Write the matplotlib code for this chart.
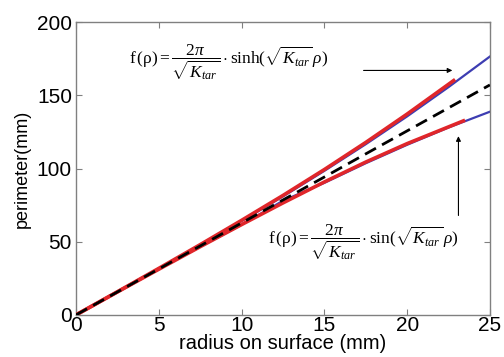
import matplotlib
matplotlib.use("Agg")
import matplotlib.pyplot as plt

# radius on surface (mm)
rho = [0, 2.5, 5, 7.5, 10, 12.5, 15, 17.5, 20, 22.5, 25]
# flat reference 2*pi*rho
flat = [0, 15.7, 31.4, 47.1, 62.8, 78.5, 94.2, 110.0, 125.7, 141.4, 157.1]
# theoretical curves (blue)
sinh_curve = [0, 15.7, 31.6, 47.6, 64.1, 80.9, 98.4, 116.6, 135.6, 155.6, 176.5]
sin_curve = [0, 15.7, 31.3, 46.6, 61.6, 78.0, 90.2, 103.6, 116.2, 128.0, 138.8]
# measured curves (red)
rho_red_up = [0, 2.5, 5, 7.5, 10, 12.5, 15, 17.5, 20, 22.9]
red_up = [0, 15.8, 31.8, 48.0, 64.6, 81.6, 99.3, 117.8, 137.2, 160.8]
rho_red_lo = [0, 2.5, 5, 7.5, 10, 12.5, 15, 17.5, 20, 23.5]
red_lo = [0, 15.7, 31.2, 46.6, 61.7, 76.5, 90.8, 104.4, 117.0, 133.0]

plt.rcParams['font.family'] = ['Liberation Sans', 'DejaVu Sans']
plt.rcParams['mathtext.fontset'] = 'custom'
plt.rcParams['mathtext.rm'] = 'Liberation Serif'
plt.rcParams['mathtext.it'] = 'Liberation Serif:italic'
plt.rcParams['mathtext.bf'] = 'Liberation Serif:bold'

fig = plt.figure(figsize=(5.04, 3.57), dpi=100)
ax = fig.add_axes([0.151, 0.118, 0.821, 0.82])

ax.plot(rho, sinh_curve, color='#3d3db2', lw=1.6, zorder=2)
ax.plot(rho, sin_curve, color='#3d3db2', lw=1.6, zorder=2)
ax.plot(rho_red_up, red_up, color='#e0262a', lw=2.6, zorder=3, solid_capstyle='butt')
ax.plot(rho_red_lo, red_lo, color='#e0262a', lw=2.6, zorder=3, solid_capstyle='butt')
ax.plot(rho, flat, color='black', lw=2.0, ls=(0, (4.5, 2.5)), zorder=4)

ax.set_xlim(0, 25)
ax.set_ylim(0, 200)
ax.set_xticks([0, 5, 10, 15, 20, 25])
ax.set_yticks([0, 50, 100, 150, 200])
ax.tick_params(direction='in', top=True, right=True, length=4, width=0.8,
               color='#808080', labelsize=15)
ax.tick_params(axis='x', pad=1)
ax.tick_params(axis='y', pad=3)
for s in ax.spines.values():
    s.set_color('#808080')
    s.set_linewidth(1.0)

ax.set_xlabel('radius on surface (mm)', fontsize=14.5, labelpad=-1)
ax.set_ylabel('perimeter(mm)', fontsize=13, labelpad=4)

upper = r'$\mathrm{f\,(\rho)}=\dfrac{2\pi}{\sqrt{K_{tar}}}\cdot\mathrm{sinh}(\sqrt{K_{tar}}\,\rho)$'
lower = r'$\mathrm{f\,(\rho)}=\dfrac{2\pi}{\sqrt{K_{tar}}}\cdot\mathrm{sin}(\sqrt{K_{tar}}\,\rho)$'
ax.text(3.2, 172, upper, fontsize=12.5, va='center', ha='left')
ax.text(11.6, 49, lower, fontsize=12.5, va='center', ha='left')

ax.annotate('', xy=(22.9, 167), xytext=(17.2, 167),
            arrowprops=dict(arrowstyle='-|>', color='black', lw=0.8,
                            mutation_scale=7))
ax.annotate('', xy=(23.1, 124), xytext=(23.1, 66),
            arrowprops=dict(arrowstyle='-|>', color='black', lw=0.8,
                            mutation_scale=7))

fig.savefig('out.png', dpi=100)
